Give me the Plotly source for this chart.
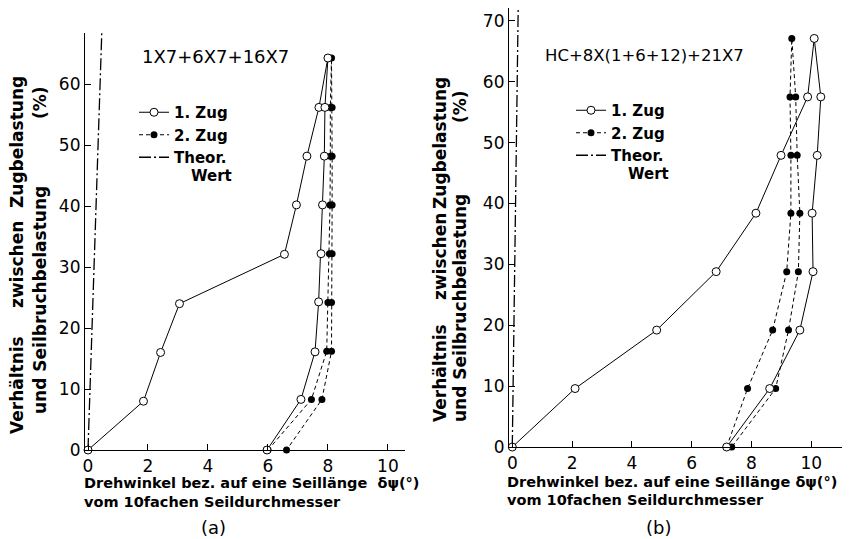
import plotly.graph_objects as go

# ---------------- data ----------------
# Panel (a): 1X7+6X7+16X7
zug1_a_x = [0, 1.85, 2.42, 3.05, 6.55, 6.95, 7.3, 7.7, 8.0, 7.9, 7.88, 7.82, 7.77, 7.69, 7.57, 7.1, 5.97]
zug1_a_y = [0, 8.0, 16.0, 24.0, 32.1, 40.2, 48.2, 56.2, 64.3, 56.2, 48.2, 40.2, 32.2, 24.3, 16.1, 8.3, 0]
zug2_a_x = [6.0, 7.45, 7.96, 8.0, 8.05, 8.07, 8.08, 8.08, 8.12, 8.14, 8.14, 8.14, 8.14, 8.12, 8.12, 7.8, 6.62]
zug2_a_y = [0, 8.3, 16.2, 24.2, 32.2, 40.2, 48.2, 56.2, 64.3, 56.2, 48.2, 40.2, 32.2, 24.2, 16.2, 8.3, 0]
theo_a_x = [0, 0.47]
theo_a_y = [0, 70]

# Panel (b): HC+8X(1+6+12)+21X7
zug1_b_x = [0, 2.1, 4.83, 6.82, 8.15, 8.99, 9.88, 10.1, 10.32, 10.2, 10.03, 10.06, 9.62, 8.61, 7.17]
zug1_b_y = [0, 9.6, 19.2, 28.8, 38.4, 47.9, 57.5, 67.1, 57.5, 47.9, 38.4, 28.8, 19.2, 9.6, 0]
zug2_b_x = [7.17, 7.87, 8.71, 9.18, 9.32, 9.32, 9.29, 9.35, 9.48, 9.53, 9.62, 9.57, 9.24, 8.81, 7.34]
zug2_b_y = [0, 9.6, 19.2, 28.8, 38.4, 47.9, 57.5, 67.1, 57.5, 47.9, 38.4, 28.8, 19.2, 9.6, 0]
theo_b_x = [0, 0.2]
theo_b_y = [0, 73]

x_ticks = [0, 2, 4, 6, 8, 10]
y_ticks_a = [0, 10, 20, 30, 40, 50, 60]
y_ticks_b = [0, 10, 20, 30, 40, 50, 60, 70]

legend_names = ["1. Zug", "2. Zug", "Theor."]
legend_extra = "Wert"
titles = ["1X7+6X7+16X7", "HC+8X(1+6+12)+21X7"]
panel_labels = ["(a)", "(b)"]
xtitle_1a = "Drehwinkel bez. auf eine Seillänge  δψ(°)"
xtitle_1b = "Drehwinkel bez. auf eine Seillänge δψ(°)"
xtitle_2 = "vom 10fachen Seildurchmesser"

FONT = "DejaVu Sans"
OFF = 8                      # page body margin of the browser
W, H = 850 - OFF, 539 - OFF  # figure size that fits the window


def px(x):
    return min(max((x - OFF) / W, 0), 1)


def py(y):
    return min(max(1 - (y - OFF) / H, 0), 1)


fig = go.Figure()


def add_panel(xa, ya, legend, z1x, z1y, z2x, z2y, tx, ty):
    fig.add_trace(go.Scatter(
        x=tx, y=ty, mode="lines", name=legend_names[2], legend=legend, legendrank=3,
        line=dict(color="black", width=1.3, dash="12px,3px,2px,3px"),
        xaxis=xa, yaxis=ya, cliponaxis=True))
    fig.add_trace(go.Scatter(
        x=z2x, y=z2y, mode="lines+markers", name=legend_names[1], legend=legend, legendrank=2,
        line=dict(color="black", width=1, dash="4px,3px"),
        marker=dict(symbol="circle", size=7, color="black"),
        xaxis=xa, yaxis=ya, cliponaxis=False))
    fig.add_trace(go.Scatter(
        x=z1x, y=z1y, mode="lines+markers", name=legend_names[0], legend=legend, legendrank=1,
        line=dict(color="black", width=1),
        marker=dict(symbol="circle", size=8, color="white", line=dict(color="black", width=1)),
        xaxis=xa, yaxis=ya, cliponaxis=False))


add_panel("x", "y", "legend", zug1_a_x, zug1_a_y, zug2_a_x, zug2_a_y, theo_a_x, theo_a_y)
add_panel("x2", "y2", "legend2", zug1_b_x, zug1_b_y, zug2_b_x, zug2_b_y, theo_b_x, theo_b_y)

axis_common = dict(showline=True, linecolor="black", linewidth=1.2, ticks="inside", ticklen=6,
                   tickcolor="black", showgrid=False, zeroline=False, automargin=False,
                   tickfont=dict(family=FONT, size=17, color="black"))

leg_font = dict(family=FONT, size=15, color="black", weight="bold")
fig.update_layout(
    template="none",
    width=W, height=H,
    margin=dict(l=0, r=0, t=0, b=0, autoexpand=False),
    paper_bgcolor="white", plot_bgcolor="white",
    font=dict(family=FONT, color="black"),
    xaxis=dict(domain=[px(85), px(405)], range=[-0.1, 10.57], tickvals=x_ticks, anchor="y", **axis_common),
    yaxis=dict(domain=[py(450), py(33)], range=[0, 68.4], tickvals=y_ticks_a, anchor="x", **axis_common),
    xaxis2=dict(domain=[px(509), px(848)], range=[-0.11, 11.23], tickvals=x_ticks, anchor="y2", **axis_common),
    yaxis2=dict(domain=[py(447), py(8)], range=[0, 72.1], tickvals=y_ticks_b, anchor="x2", **axis_common),
    legend=dict(x=px(134), y=py(96), xanchor="left", yanchor="top", bgcolor="rgba(0,0,0,0)",
                font=leg_font, valign="top", tracegroupgap=0, itemwidth=30, borderwidth=0),
    legend2=dict(x=px(571), y=py(94), xanchor="left", yanchor="top", bgcolor="rgba(0,0,0,0)",
                 font=leg_font, valign="top", tracegroupgap=0, itemwidth=30, borderwidth=0),
    showlegend=True,
)

ann = []
tf = dict(family=FONT, size=14.5, color="black", weight="bold")
yf = dict(family=FONT, size=17, color="black", weight="bold")
# panel titles
ann.append(dict(text=titles[0], x=px(215), y=py(56), font=dict(family=FONT, size=18, color="black")))
ann.append(dict(text=titles[1], x=px(644), y=py(55), font=dict(family=FONT, size=16.5, color="black")))
# second line of "Theor. Wert" legend entries
ann.append(dict(text=legend_extra, x=px(189), y=py(176), xanchor="left", font=leg_font))
ann.append(dict(text=legend_extra, x=px(626), y=py(174), xanchor="left", font=leg_font))
# x titles
ann.append(dict(text=xtitle_1a, x=px(82), y=py(483), xanchor="left", font=tf))
ann.append(dict(text=xtitle_2, x=px(82), y=py(502), xanchor="left", font=tf))
ann.append(dict(text=xtitle_1b, x=px(505), y=py(482), xanchor="left", font=tf))
ann.append(dict(text=xtitle_2, x=px(505), y=py(500), xanchor="left", font=tf))
ann.append(dict(text=panel_labels[0], x=px(213), y=py(527), font=dict(family=FONT, size=18, color="black")))
ann.append(dict(text=panel_labels[1], x=px(658), y=py(527), font=dict(family=FONT, size=18, color="black")))
# y titles (rotated, words placed separately)
ylab = [
    # left panel
    ("Verhältnis", 17, 385), ("zwischen", 17, 265), ("Zugbelastung", 17, 142),
    ("und Seilbruchbelastung", 40, 300), ("(%)", 40, 103),
    # right panel
    ("Verhältnis", 440, 373), ("zwischen", 440, 257), ("Zugbelastung", 440, 143),
    ("und Seilbruchbelastung", 460, 308), ("(%)", 460, 107),
]
for t, x0, y0 in ylab:
    ann.append(dict(text=t, x=px(x0), y=py(y0), textangle=-90, font=yf))

for a in ann:
    a.update(xref="paper", yref="paper", showarrow=False)
    a.setdefault("xanchor", "center")
    a.setdefault("yanchor", "middle")
fig.update_layout(annotations=ann)

fig.write_html("out.html")
